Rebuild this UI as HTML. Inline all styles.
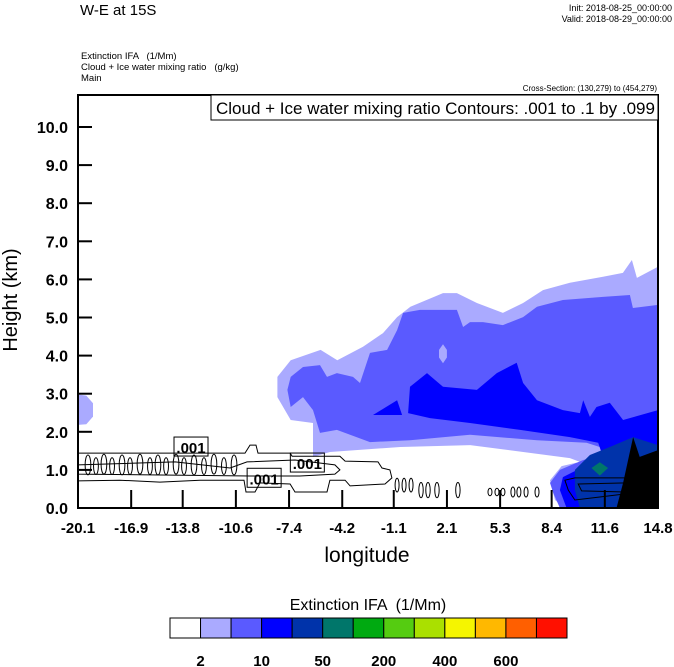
<!DOCTYPE html>
<html><head><meta charset="utf-8"><style>
body{margin:0;background:#fff;width:674px;height:667px;overflow:hidden}
svg{display:block;font-family:"Liberation Sans",sans-serif}
text{white-space:pre}
</style></head><body>
<svg id="chart" width="674" height="667" viewBox="0 0 674 667">
<text x="80" y="15" font-size="15">W-E at 15S</text>
<text x="672" y="11" font-size="9" text-anchor="end">Init: 2018-08-25_00:00:00</text>
<text x="672" y="22" font-size="9" text-anchor="end">Valid: 2018-08-29_00:00:00</text>
<text x="81" y="59" font-size="9.5">Extinction IFA   (1/Mm)</text>
<text x="81" y="70" font-size="9.5">Cloud + Ice water mixing ratio   (g/kg)</text>
<text x="81" y="81" font-size="9.5">Main</text>
<text x="657" y="91" font-size="8" text-anchor="end">Cross-Section: (130,279) to (454,279)</text>
<g id="plot"></g>
<rect x="78" y="95" width="580" height="413" fill="none" stroke="#000" stroke-width="2"/>
<rect x="211" y="95" width="447" height="25" fill="#fff" stroke="#000" stroke-width="1"/>
<text x="216" y="114" font-size="17">Cloud + Ice water mixing ratio Contours: .001 to .1 by .099</text>
<g id="axes"></g>
<text transform="translate(17,300) rotate(-90)" font-size="20" text-anchor="middle">Height (km)</text>
<text x="367" y="562" font-size="21" text-anchor="middle">longitude</text>
<text x="368" y="610" font-size="16" text-anchor="middle">Extinction IFA  (1/Mm)</text>
<g id="cbar"></g>
</svg>
<script>
const xTicks=["-20.1","-16.9","-13.8","-10.6","-7.4","-4.2","-1.1","2.1","5.3","8.4","11.6","14.8"];
const yTicks=["0.0","1.0","2.0","3.0","4.0","5.0","6.0","7.0","8.0","9.0","10.0"];
const cbarColors=["#ffffff","#aaaaff","#5a5aff","#0000ff","#0033aa","#00766a","#00aa11","#55cc11","#aae000","#f5f500","#ffb800","#ff5f00","#ff1000"];
const cbarLabels=["2","10","50","200","400","600"];
const level1=[[-8.1,3.44],[-7.3,3.88],[-5.5,4.15],[-4.5,3.88],[-2.95,4.23],[-1.75,4.59],[-0.9,5.01],[-0.1,5.28],[1.86,5.64],[2.7,5.64],[3.9,5.38],[5.47,5.12],[6.68,5.38],[7.88,5.72],[9.5,5.91],[11.49,6.07],[12.69,6.17],[13.23,6.51],[13.53,6.04],[14.8,6.33],[14.8,0],[9.2,0],[8.6,0.21],[8.3,0.73],[9.0,1.1],[10.1,1.21],[9.5,1.31],[3.5,1.65],[-0.7,1.6],[-4.94,1.47],[-5.96,1.34],[-5.96,2.23],[-7.3,2.31],[-8.1,2.91]];
const level1Blob=[[-20.1,2.98],[-19.6,2.95],[-19.2,2.75],[-19.2,2.4],[-19.6,2.2],[-20.1,2.18]];
const level2=[[-7.3,3.44],[-6.56,3.7],[-5.54,3.75],[-5.12,3.44],[-4.52,3.54],[-3.55,3.44],[-3.13,3.28],[-2.53,4.07],[-1.5,4.15],[-0.9,4.67],[-0.54,5.12],[0.48,5.2],[2.7,5.2],[3.07,4.75],[3.49,4.88],[4.27,4.88],[5.47,4.8],[6.68,5.01],[7.52,5.28],[9.08,5.46],[11.49,5.54],[13.11,5.59],[13.29,5.25],[14.8,5.33],[14.8,0],[8.9,0],[8.5,0.39],[8.3,0.66],[8.9,1.0],[10.3,1.26],[11.49,1.39],[11.3,1.6],[10.5,1.71],[7.52,1.78],[3.49,1.92],[-0.12,1.78],[-2.53,1.73],[-4.52,2.05],[-5.54,1.97],[-5.96,2.57],[-6.56,2.91],[-7.3,2.65],[-7.5,3.1]];
const level2Hole=[[1.86,4.3],[2.1,4.15],[2.1,3.95],[1.86,3.8],[1.62,3.95],[1.62,4.15]];
const level3=[[-0.12,3.18],[0.9,3.54],[1.86,3.18],[3.9,3.1],[5.1,3.54],[6.3,3.81],[6.68,3.28],[7.52,2.83],[9.08,2.57],[10.1,2.49],[10.3,2.83],[10.7,2.39],[11.1,2.65],[11.9,2.76],[12.7,2.31],[14.8,2.57],[14.8,0],[9.3,0],[8.9,0.47],[9.08,0.81],[11.49,1.34],[11.2,1.71],[9.5,1.86],[6.5,2.05],[3.49,2.23],[1.08,2.36],[-0.24,2.49]];
const level3Blob=[[-2.35,2.44],[-0.9,2.83],[-0.6,2.44]];
const level4=[[9.8,1.0],[10.7,1.39],[11.9,1.6],[13.3,1.86],[14.8,1.65],[14.8,0],[10.1,0],[9.8,0.47]];
const level5=[[10.8,1.05],[11.3,1.2],[11.8,1.05],[11.3,0.85]];
const terrain=[[13.3,1.86],[13.7,1.34],[14.8,1.52],[14.8,0],[12.3,0],[12.7,0.66]];
const contourA=[[-20.1,1.44],[-10.05,1.44],[-9.75,1.65],[-9.39,1.65],[-9.27,1.44],[-7.34,1.44],[-7.22,1.36],[-4.34,1.36],[-4.03,1.23],[-2.05,1.21],[-1.81,1.05],[-1.33,1.0],[-1.21,0.79],[-1.63,0.63],[-3.73,0.58],[-4.03,0.73],[-4.94,0.73],[-5.12,0.42],[-7.04,0.42],[-7.34,0.63],[-9.15,0.66],[-9.45,0.42],[-9.99,0.42],[-10.11,0.73],[-12.76,0.73],[-15.17,0.68],[-17.57,0.73],[-20.1,0.71]];
const contourB=[[-20.1,1.13],[-14.26,1.21],[-10.95,1.05],[-9.93,1.21],[-7.04,1.26],[-4.64,1.13],[-4.34,1.0],[-4.64,0.89],[-6.74,0.84],[-9.75,0.84],[-15.77,0.87],[-20.1,0.89]];
const contourC=[[9.2,0.73],[9.8,0.79],[13.11,0.79],[13.23,0.39],[11.3,0.29],[9.8,0.21],[9.4,0.47]];
const contourD=[[10.0,0.63],[12.9,0.66],[12.8,0.42],[10.2,0.45]];
const ovalLon=[-19.5,-19.02,-18.54,-18.05,-17.45,-16.97,-16.37,-15.77,-15.29,-14.8,-14.2,-13.72,-13.12,-12.52,-11.92,-11.32,-10.71,-0.9,-0.48,-0.06,0.54,0.96,1.5,2.76,4.69,5.11,5.47,6.07,6.43,6.86,7.52];
const ovalH=[1.13,1.1,1.15,1.1,1.13,1.1,1.15,1.1,1.13,1.1,1.15,1.1,1.13,1.1,1.15,1.1,1.13,0.6,0.6,0.6,0.47,0.47,0.47,0.47,0.42,0.42,0.42,0.42,0.42,0.42,0.42];
const ovalR=[0.26,0.22,0.26,0.22,0.26,0.22,0.26,0.22,0.26,0.22,0.26,0.22,0.26,0.22,0.26,0.22,0.26,0.18,0.18,0.18,0.2,0.2,0.2,0.2,0.1,0.1,0.1,0.13,0.13,0.13,0.13];
const labelLon=[-13.3,-8.9,-6.3];
const labelH=[1.6,0.78,1.18];

const NS="http://www.w3.org/2000/svg";
const X0=78,X1=658,Y0=508,Y1=95,LMIN=-20.1,LMAX=14.8,HPX=38.1;
function sx(l){return X0+(l-LMIN)/(LMAX-LMIN)*(X1-X0);}
function sy(h){return Y0-h*HPX;}
function mk(tag,attrs,parent){const e=document.createElementNS(NS,tag);for(const k in attrs)e.setAttribute(k,attrs[k]);parent.appendChild(e);return e;}
function pts(a){return a.map(p=>sx(p[0]).toFixed(1)+","+sy(p[1]).toFixed(1)).join(" ");}
const plot=document.getElementById("plot");
const fills=[[level1,"#aaaaff","extinction-level-2"],[level1Blob,"#aaaaff","extinction-blob-left"],[level2,"#5a5aff","extinction-level-10"],[level2Hole,"#aaaaff","extinction-hole"],[level3,"#0000ff","extinction-level-50"],[level3Blob,"#0000ff","extinction-blob-50"],[level4,"#0033aa","extinction-level-200"],[level5,"#00766a","extinction-level-400"],[terrain,"#000000","terrain"]];
fills.forEach(f=>{const p=mk("polygon",{points:pts(f[0]),fill:f[1]},plot);

});
[contourA,contourB,contourC,contourD].forEach((c,i)=>{const p=mk("polygon",{points:pts(c),fill:"none",stroke:"#000","stroke-width":1},plot);

});
ovalLon.forEach((l,i)=>{const e=mk("ellipse",{cx:sx(l),cy:sy(ovalH[i]),rx:Math.max(2,ovalR[i]*11),ry:ovalR[i]*HPX,fill:"none",stroke:"#000","stroke-width":1},plot);

});
labelLon.forEach((l,i)=>{const g=mk("g",{},plot);


const x=sx(l),y=sy(labelH[i]);
mk("rect",{x:x-17,y:y-10,width:34,height:19,fill:"none",stroke:"#000","stroke-width":1},g);
const t=mk("text",{x:x,y:y+6,"font-size":15,"font-weight":"bold","text-anchor":"middle"},g);t.textContent=".001";});
const axes=document.getElementById("axes");
xTicks.forEach((t,i)=>{const v=parseFloat(t);const x=sx(v);
const ln=mk("line",{x1:x,y1:Y0,x2:x,y2:Y0-18,stroke:"#000","stroke-width":2},axes);


const tx=mk("text",{x:x,y:533,"font-size":15,"font-weight":"bold","text-anchor":"middle"},axes);tx.textContent=t;

});
yTicks.forEach((t,i)=>{const v=parseFloat(t);const y=sy(v);
const ln=mk("line",{x1:X0,y1:y,x2:X0+14,y2:y,stroke:"#000","stroke-width":2},axes);


const tx=mk("text",{x:68,y:y+6,"font-size":16,"font-weight":"bold","text-anchor":"end"},axes);tx.textContent=t;

});
const cb=document.getElementById("cbar");const bw=(567-170)/cbarColors.length;
cbarColors.forEach((c,i)=>{const r=mk("rect",{x:170+i*bw,y:618,width:bw,height:20,fill:c,stroke:"#000","stroke-width":1},cb);

});
cbarLabels.forEach((t,i)=>{const tx=mk("text",{x:170+(i*2+1)*bw,y:666,"font-size":15,"font-weight":"bold","text-anchor":"middle"},cb);tx.textContent=t;

});
</script>
</body></html>
